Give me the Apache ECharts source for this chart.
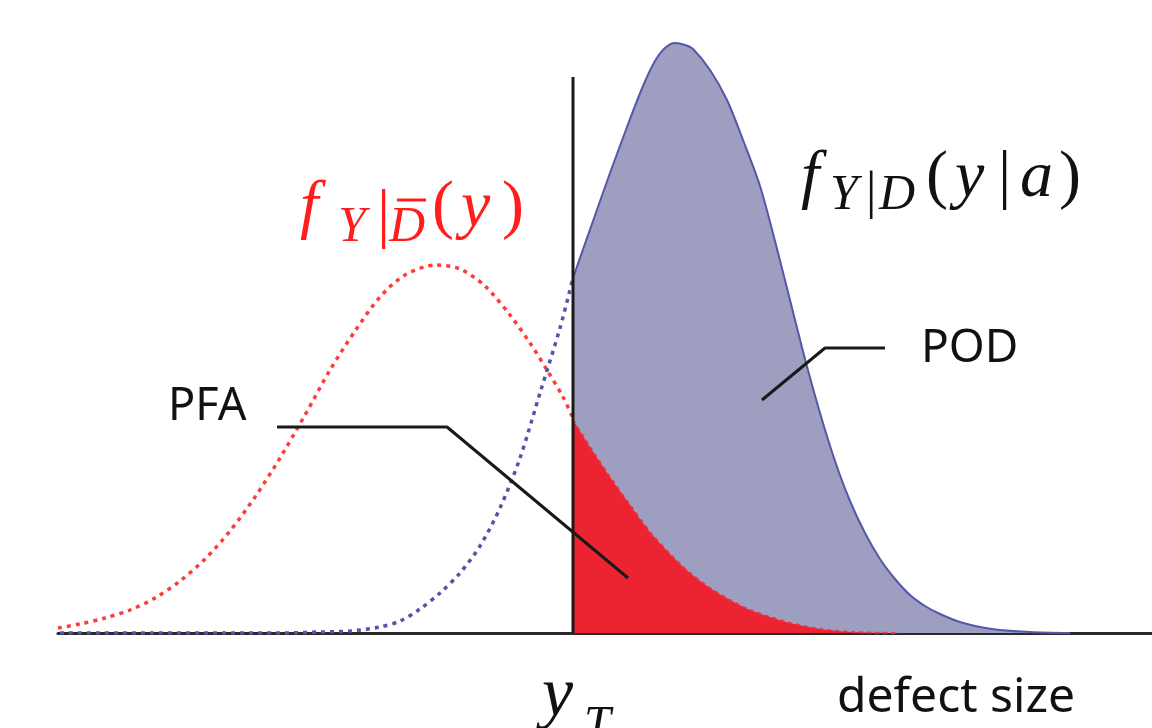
<!DOCTYPE html>
<html>
<head>
<meta charset="utf-8">
<script src="https://cdn.jsdelivr.net/npm/echarts@6/dist/echarts.min.js"></script>
<style>
  html, body { margin: 0; padding: 0; background: #fff; }
  #main { width: 1152px; height: 728px; }
</style>
</head>
<body>
<div id="main"></div>
<script>
// defect size axis (arbitrary units) and density heights
const yT = 573
const thresholdTop = 556

// no-defect density f_{Y|notD}(y), left of the threshold (dotted red)
const noDefectX = [58, 80, 105, 130, 155, 180, 205, 230, 255, 280, 305, 330, 355, 380, 405, 436, 460, 485, 510, 530, 547, 563, 573]
const noDefectY = [5, 9, 15, 23, 35, 52, 74, 102, 136, 175, 218, 263, 302, 336, 358, 368, 364, 347, 318, 290, 263, 236, 215]

// same curve right of the threshold -> PFA area
const pfaX = [573, 590, 610, 630, 650, 670, 690, 710, 730, 750, 770, 790, 820, 850, 900]
const pfaY = [213, 186, 156, 128, 101, 79, 60, 45, 33, 23, 16, 10, 4, 1, 0]

// defect density f_{Y|D}(y|a), left part (dotted blue)
const defectLeftX = [60, 280, 320, 350, 380, 400, 420, 440, 460, 480, 500, 520, 540, 560, 573]
const defectLeftY = [0, 0, 1, 2, 6, 12, 24, 40, 60, 87, 125, 175, 240, 305, 355]

// right part -> POD area
const podX = [573, 593, 610, 627, 643, 655, 665, 675, 685, 693, 710, 727, 743, 760, 775, 790, 805, 820, 835, 850, 865, 880, 895, 910, 925, 940, 960, 980, 1000, 1030, 1070]
const podY = [355, 412, 460, 506, 547, 572, 585, 590, 588, 584, 563, 533, 493, 447, 392, 333, 274, 220, 172, 132, 100, 74, 54, 38, 27, 19, 11, 6, 3, 1, 0]

// leader lines for the labels
const pfaLeader = [[277, 206], [447, 206], [628, 55]]
const podLeader = [[885, 285], [825, 285], [762, 233]]

function zip(xs, ys) {
  return xs.map((x, i) => [x, ys[i]])
}

const chart = echarts.init(document.getElementById('main'))

const serif = '"Liberation Serif", "DejaVu Serif", serif'
const sans = '"Noto Sans", "Open Sans", sans-serif'

// y here is the top of the text box; baseline sits about 0.78 * size lower
function mathText(text, x, y, size, color, italic) {
  return {
    type: 'text',
    z: 100,
    style: {
      text: text,
      x: x,
      y: y,
      fill: color,
      font: (italic ? 'italic ' : '') + size + 'px ' + serif
    }
  }
}

function plainText(text, x, y, size) {
  return {
    type: 'text',
    z: 100,
    style: { text: text, x: x, y: y, fill: '#111', font: size + 'px ' + sans }
  }
}

const red = '#ff1e1e'
const ink = '#111'

const option = {
  animation: false,
  backgroundColor: '#fff',
  grid: { left: 58, right: 0, top: 0, bottom: 95 },
  xAxis: {
    type: 'value',
    min: 58,
    max: 1152,
    axisLine: { show: true, lineStyle: { color: '#2a2a2a', width: 3 } },
    axisTick: { show: false },
    axisLabel: { show: false },
    splitLine: { show: false }
  },
  yAxis: {
    type: 'value',
    min: 0,
    max: 633,
    show: false
  },
  series: [
    {
      name: 'POD',
      type: 'line',
      data: zip(podX, podY),
      smooth: 0.3,
      showSymbol: false,
      lineStyle: { color: '#5656aa', width: 2 },
      areaStyle: { color: '#9e9ec0', opacity: 1 },
      z: 2
    },
    {
      name: 'PFA',
      type: 'line',
      data: zip(pfaX, pfaY),
      smooth: 0.3,
      showSymbol: false,
      lineStyle: { color: '#f03040', width: 2, type: [4, 4] },
      areaStyle: { color: '#ec2330', opacity: 1 },
      z: 3
    },
    {
      name: 'no defect',
      type: 'line',
      data: zip(noDefectX, noDefectY),
      smooth: 0.3,
      showSymbol: false,
      lineStyle: { color: '#ff3c3c', width: 3.5, type: [4, 5] },
      z: 4
    },
    {
      name: 'defect',
      type: 'line',
      data: zip(defectLeftX, defectLeftY),
      smooth: 0.3,
      showSymbol: false,
      lineStyle: { color: '#5454aa', width: 3.5, type: [4, 5] },
      z: 4
    },
    {
      name: 'threshold',
      type: 'line',
      data: [[yT, 0], [yT, thresholdTop]],
      showSymbol: false,
      lineStyle: { color: '#1a1a1a', width: 3 },
      z: 5
    },
    {
      name: 'pfa leader',
      type: 'line',
      data: pfaLeader,
      showSymbol: false,
      lineStyle: { color: '#1a1a1a', width: 3 },
      z: 6
    },
    {
      name: 'pod leader',
      type: 'line',
      data: podLeader,
      showSymbol: false,
      lineStyle: { color: '#1a1a1a', width: 3 },
      z: 6
    }
  ],
  graphic: [
    // labels
    plainText('PFA', 168, 385, 45),
    plainText('POD', 921, 326, 46),
    plainText('defect size', 837, 674, 48),

    // f_{Y|D-bar}(y) in red
    mathText('f', 300, 176, 66, red, true),
    mathText('Y', 338, 203, 50, red, true),
    mathText('|', 377, 185, 66, red, false),
    mathText('D', 389, 203, 50, red, true),
    { type: 'line', z: 100, shape: { x1: 397, y1: 200, x2: 426, y2: 200 }, style: { stroke: red, lineWidth: 3 } },
    mathText('(', 432, 176, 66, red, false),
    mathText('y', 461, 176, 66, red, true),
    mathText(')', 502, 176, 66, red, false),

    // f_{Y|D}(y|a) in black
    mathText('f', 801, 146, 66, ink, true),
    mathText('Y', 830, 171, 50, ink, true),
    mathText('|', 866, 168, 52, ink, false),
    mathText('D', 879, 171, 50, ink, true),
    mathText('(', 926, 146, 66, ink, false),
    mathText('y', 955, 146, 66, ink, true),
    mathText('|', 998, 146, 66, ink, false),
    mathText('a', 1020, 146, 66, ink, true),
    mathText(')', 1059, 146, 66, ink, false),

    // y_T under the threshold
    mathText('y', 542, 662, 70, ink, true),
    mathText('T', 584, 702, 48, ink, true)
  ]
}

chart.setOption(option)
</script>
</body>
</html>
